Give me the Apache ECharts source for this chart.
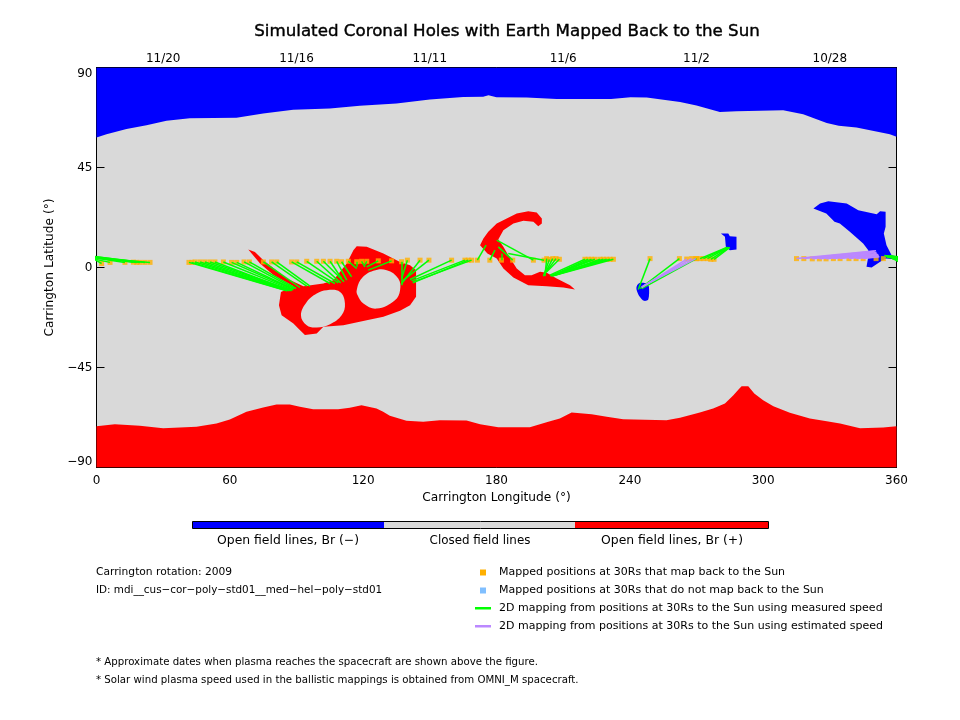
<!doctype html>
<html lang="en">
<head>
<meta charset="utf-8">
<title>Simulated Coronal Holes</title>
<script src="https://cdn.jsdelivr.net/npm/echarts@6/dist/echarts.min.js"></script>
<style>html,body{margin:0;background:#fff}#main{width:960px;height:720px}</style>
</head>
<body>
<div id="main"></div>
<script>
// all region outlines are [longitude, latitude]
var northBoundary = [[0,58.5],[4.5,60],[13.5,62.3],[22.5,64],[31.5,66],[42,67.2],[63,67.4],[75,69.3],[88.5,71],[105,71.5],[118.5,72.8],[135,73.8],[150,75.6],[165,76.7],[174,76.8],[176.4,77.5],[180,76.6],[193.6,76.5],[207,75.8],[231.6,75.8],[240.3,76.6],[247.6,76.5],[262.6,74.5],[270,72.9],[280.5,70],[288,70.3],[309,70.8],[318,69],[328.6,65],[334,63.8],[342,63],[357,60],[360,58.8]];
var southBoundary = [[0,-71.4],[8.25,-70.5],[19.5,-71.25],[30,-72.3],[45,-71.7],[54,-70.2],[60,-68.4],[67.5,-64.95],[75,-63],[81,-61.65],[87,-61.65],[91.5,-62.7],[97.5,-63.75],[108.75,-63.75],[114,-63.15],[119.25,-61.95],[126,-63.45],[129,-64.95],[132,-66.75],[139.5,-69],[147,-69.45],[154.5,-68.7],[166.5,-68.85],[172.6,-70.5],[180.8,-71.85],[195,-71.85],[203.3,-69.45],[208.5,-68],[213.8,-65.25],[222.8,-66],[229.6,-67.2],[237,-68.25],[256.5,-68.7],[262.6,-67.65],[271.5,-65.25],[277.5,-63.45],[282.8,-61.2],[286.6,-57.45],[288.9,-54.9],[290.3,-53.4],[293.3,-53.4],[296,-56.7],[300,-59.7],[304.6,-62.4],[312,-65.4],[321,-68],[328.6,-69.15],[334.6,-70.2],[343.6,-72.3],[354,-72],[360,-71.4]];
var redBlob = [[68.3,8.1],[71.3,7],[75.1,3.3],[85.6,-4.9],[93.1,-8.4],[102.1,-7.2],[106.6,-5.7],[112.6,1.8],[115.6,7.8],[117.1,9.6],[121.6,9.3],[129.1,6.3],[136.6,2.5],[141.1,1],[143.8,-1.2],[143.8,-13.2],[141.1,-17],[136.6,-19.5],[129.1,-22.2],[121.6,-23.7],[111.1,-26],[102.1,-26.7],[99.1,-29.7],[93.8,-30.4],[90.8,-27.4],[88.6,-25.2],[83.3,-21.5],[82.1,-17],[83,-11],[88.6,-8.4],[79.6,-3.4],[73.6,1.8]];
var blobHoleLeft = [[103.6,-10.2],[109.6,-11],[111.8,-16.2],[110.3,-21.5],[105.1,-25.5],[99.1,-27],[94.6,-26],[92,-21.5],[94.6,-15.5],[99.1,-11.7]];
var blobHoleRight = [[117.5,-12.5],[117.1,-10.2],[119.3,-4.95],[124.6,-1.5],[130.6,-1.2],[135.8,-4.95],[136.6,-10.2],[134.3,-14.7],[126.1,-18.5],[120.1,-16.2]];
var redCrescent = [[200.4,19.8],[200.4,22.05],[198.1,24.75],[194.3,25.35],[189.1,24.3],[184.6,22.05],[180.1,19.8],[176.3,16.05],[174.1,13.05],[172.6,10.05],[175.9,6.3],[180.1,4.05],[183.1,-0.45],[187.6,-4.5],[194.3,-7.95],[202.6,-8.4],[210.1,-9],[215.3,-9.9],[213.1,-7.95],[207.1,-4.95],[202.6,-2.4],[199.6,-1.95],[195.8,-3.45],[192.8,-3.45],[189.1,-0.45],[185.3,5.55],[183.1,9.3],[180.8,12.6],[183.1,16.8],[187.6,19.8],[192.1,21],[196.6,20.55],[198.8,18.6]];
var blueSmallSouth = [[244.6,-6.9],[243.1,-8.4],[243.1,-10.2],[244.3,-12.9],[246.4,-15],[248.3,-14.4],[248.6,-8.7],[247.6,-7.2]];
var blueSmallNorth = [[281,15.3],[284.3,15.3],[285,14.1],[288,13.8],[288,8.1],[285,7.8],[283.2,9.3],[282.8,13.8]];
var blueLarge = [[322.6,26.55],[325.6,28.8],[329.3,29.85],[337.6,28.8],[342.8,25.8],[351.1,24],[352.6,25.35],[355.1,25.05],[355.1,18.3],[354.3,15.3],[355.5,10.05],[357.8,5.55],[360,4.8],[360,3.6],[355.5,4.05],[353.7,3.3],[348.8,0],[346.5,0.3],[347.3,4.8],[347.3,7.8],[345,10.8],[339,16.05],[334.5,19.8],[332.1,20.55],[328.4,24.3]];

// [lon at 30Rs, lat at 30Rs, lon on Sun, lat on Sun], negative lon wraps round to the right edge
var measuredMappings = [
[2.3,1.8,-3,4.8],[6.1,2.3,-2,4],[12.8,2.3,-2.5,4.6],[16.6,2.4,-4,5],[18.1,2.3,-5,5.2],[19.6,2.3,-3,5.3],[21.8,2.3,-5.5,5.4],[24.1,2.3,-4.5,4.6],
[41.6,2.3,85.6,-10.5],[42.8,2.3,85.9,-10.5],[44.3,2.5,86.3,-10.2],[46.6,2.5,86.8,-10.5],[48.8,2.5,87.1,-10.2],[51.1,2.5,87.5,-10.2],[53.3,2.5,87.8,-10.5],[57.1,2.5,88.3,-10.2],[60.8,2.3,88.6,-9.9],[63.1,2.3,87.1,-9],[66.4,2.5,88.9,-9.45],[68.8,2.5,89.8,-9.45],
[75.1,2.5,91.6,-9],[78.8,2.5,94.6,-8.4],[81.1,2.5,96.1,-8.4],[87.8,2.5,105.1,-7.2],[90.1,2.5,107.3,-7.2],[94.6,2.8,108.8,-6.9],[99.1,2.8,109.9,-6.9],[102.1,2.8,111.4,-6.45],[105.1,2.8,110.3,-4.95],[108.1,2.8,112.6,-5.7],[110.3,2.6,114.8,-4.2],[113.3,2.8,117.1,-0.45],[117.1,2.6,117.1,0.3],[119.3,2.8,120.8,0.3],[121.6,2.8,120.8,1.05],[126.8,3,121.6,0.3],[132.8,3,122.3,-1.2],[137.3,2.6,137.3,-8],
[139.9,3.3,137.3,-4.95],[145.6,3.3,137.3,-7.2],[149.6,3.3,138.1,-5.7],[159.8,3.3,141.1,-5.4],[165.8,3.3,141.8,-6],[167.3,3.3,142.3,-6.9],[168.8,3.3,142.6,-6.45],[171.4,3.3,175.3,10.05],[177,3.3,179.3,7.8],[182.2,3.3,182.3,6.3],[187.3,3.3,180.8,9.3],[196.6,3.3,180.1,12.3],[201.4,3.3,185.3,6.3],
[202.6,4,201.8,-3.9],[203.8,3.6,201.1,-3.9],[205.3,4,201.4,-3.45],[206.8,4,201.8,-2.7],[208.3,3.7,202.6,-1.95],[219.8,3.7,204,-3.45],[221.3,3.7,204.3,-3.9],[222.8,3.7,204.8,-3.9],[224.3,3.7,204.8,-3.6],[226.6,3.7,205.3,-3.9],[228.1,3.7,205.3,-3.45],[229.6,3.7,205.6,-3.45],[231.1,3.7,205.9,-3.45],[232.6,3.7,206.3,-3.45],
[249.1,4,243.8,-9.9],[262.3,4,244.6,-9.45],[270,4,245.3,-9.45],[271.6,4,283.6,9],[273.1,4,283.9,9],[274.9,4,284.3,9],[276.4,3.7,284.8,9],[277.9,3.7,285,9]
];
var estimatedMappings = [
[265.6,3.8,245.3,-9],[267.8,4,245.3,-8.7],[269.7,4,246,-8.4],
[315,4,350.8,7.5],[318.3,4,350.2,7.3],[322.1,3.9,349.6,7],[325.3,3.9,351,6.8],[328.3,3.9,351.1,6.3],[331.6,4,351.5,6],[334.6,4,351.8,5.7],[338.6,4,352,5.4],[341.8,4,352,5],[345,4,352.3,4.8]
];
var extraMapped = [[350.8,4],[354.1,4]];

var xTicks = 60;
var topTicks = 30;
var dateLons = [30,90,150,210,270,330];
var dateLabels = ['11/20','11/16','11/11','11/6','11/2','10/28'];
var latTicks = 45;

var BLUE = '#0000ff', RED = '#ff0000', GRAY = '#d9d9d9', ORANGE = '#ffb000', SKY = '#80bfff', GREEN = '#00ff00', PURPLE = '#bb88ff';
var FONT = 'DejaVu Sans';

function fill(points, color, smooth) {
    return {
        type: 'custom', silent: true, clip: true, data: points, z: 2,
        renderItem: function (params, api) {
            if (params.dataIndex !== 0) return null;
            return { type: 'polygon', shape: { points: points.map(function (p) { return api.coord(p); }), smooth: smooth || 0 }, style: { fill: color } };
        }
    };
}
function capped(boundary, lat) {
    return [[0, lat]].concat(boundary, [[360, lat]]);
}
function lineData(rows) {
    var out = [];
    rows.forEach(function (r) {
        out.push({ coords: [[r[0], r[1]], [r[2], r[3]]] });
        if (r[2] < 0) out.push({ coords: [[r[0] + 360, r[1]], [r[2] + 360, r[3]]] });
    });
    return out;
}
function txt(x, y, s, align, size) {
    return { type: 'text', x: x, y: y, silent: true, style: { text: s, fill: '#000', font: (size || 11) + 'px "' + FONT + '"', textAlign: align || 'left', textVerticalAlign: 'middle' } };
}
function box(x, y, w, h, color) {
    return { type: 'rect', silent: true, shape: { x: x, y: y, width: w, height: h }, style: { fill: color } };
}

var mappedPoints = measuredMappings.concat(estimatedMappings).map(function (r) { return [r[0], r[1]]; }).concat(extraMapped);
var axisBase = { min: 0, max: 360, axisLine: { onZero: false, lineStyle: { color: '#000', width: 1 } }, splitLine: { show: false } };

var option = {
    animation: false,
    backgroundColor: '#fff',
    title: {
        text: 'Simulated Coronal Holes with Earth Mapped Back to the Sun',
        left: 502, top: 18, textAlign: 'center',
        textStyle: { fontFamily: FONT, fontSize: 16.7, fontWeight: 'normal', color: '#000', textBorderColor: '#000', textBorderWidth: 0.4 }
    },
    grid: { left: 96.5, right: 63.5, top: 67.5, bottom: 252.5, show: true, backgroundColor: GRAY, borderWidth: 0 },
    xAxis: [
        Object.assign({}, axisBase, {
            type: 'value', position: 'bottom', interval: xTicks,
            axisTick: { inside: true, length: 4, lineStyle: { color: '#000' } },
            axisLabel: { color: '#000', fontFamily: FONT, fontSize: 12, margin: 7 },
            name: 'Carrington Longitude (°)', nameLocation: 'middle', nameGap: 18,
            nameTextStyle: { color: '#000', fontFamily: FONT, fontSize: 12.2 }
        }),
        Object.assign({}, axisBase, {
            type: 'value', position: 'top', interval: topTicks,
            axisTick: { inside: true, length: 4, lineStyle: { color: '#000' } },
            axisLabel: {
                color: '#000', fontFamily: FONT, fontSize: 12, margin: 3,
                formatter: function (v) { var i = dateLons.indexOf(v); return i < 0 ? '' : dateLabels[i]; }
            }
        })
    ],
    yAxis: [
        {
            type: 'value', min: -90, max: 90, interval: latTicks, position: 'left',
            axisLine: { onZero: false, lineStyle: { color: '#000', width: 1 } }, splitLine: { show: false },
            axisTick: { inside: true, length: 8, lineStyle: { color: '#000' } },
            axisLabel: {
                color: '#000', fontFamily: FONT, fontSize: 12, margin: 4,
                verticalAlignMinLabel: 'bottom', verticalAlignMaxLabel: 'top',
                formatter: function (v) { return String(v).replace('-', '\u2212'); }
            },
            name: 'Carrington Latitude (°)', nameLocation: 'middle', nameGap: 34, nameRotate: 90,
            nameTextStyle: { color: '#000', fontFamily: FONT, fontSize: 12.2 }
        },
        {
            type: 'value', min: -90, max: 90, interval: latTicks, position: 'right',
            axisLine: { onZero: false, lineStyle: { color: '#000', width: 1 } }, splitLine: { show: false },
            axisTick: { inside: true, length: 8, lineStyle: { color: '#000' } },
            axisLabel: { show: false }
        }
    ],
    series: [
        fill(capped(northBoundary, 90), BLUE),
        fill(capped(southBoundary, -90), RED),
        fill(redBlob, RED),
        fill(blobHoleLeft, GRAY, 0.4),
        fill(blobHoleRight, GRAY, 0.4),
        fill(redCrescent, RED),
        fill(blueSmallSouth, BLUE, 0.3),
        fill(blueSmallNorth, BLUE),
        fill(blueLarge, BLUE),
        { type: 'scatter', name: 'Mapped', data: mappedPoints, symbol: 'rect', symbolSize: 5, clip: true, z: 3, silent: true, itemStyle: { color: ORANGE } },
        { type: 'lines', coordinateSystem: 'cartesian2d', polyline: false, clip: true, z: 4, silent: true, data: lineData(measuredMappings), lineStyle: { color: GREEN, width: 1.5, opacity: 1 } },
        { type: 'lines', coordinateSystem: 'cartesian2d', polyline: false, clip: true, z: 5, silent: true, data: lineData(estimatedMappings), lineStyle: { color: PURPLE, width: 1.5, opacity: 1 } }
    ],
    graphic: [
        box(192.5, 521.5, 191.5, 7, BLUE),
        box(384, 521.5, 191, 7, GRAY),
        box(575, 521.5, 193, 7, RED),
        { type: 'rect', silent: true, shape: { x: 192.5, y: 521.5, width: 576, height: 7 }, style: { fill: 'none', stroke: '#000', lineWidth: 1 } },
        txt(288, 541, 'Open field lines, Br (\u2212)', 'center', 12.4),
        txt(480, 541, 'Closed field lines', 'center', 11.9),
        txt(672, 541, 'Open field lines, Br (+)', 'center', 12.4),
        txt(96, 572, 'Carrington rotation: 2009', 'left', 10.7),
        txt(96, 590.5, 'ID: mdi__cus\u2212cor\u2212poly\u2212std01__med\u2212hel\u2212poly\u2212std01', 'left', 10.4),
        box(480, 569.5, 6, 6, ORANGE),
        box(480, 587.5, 6, 6, SKY),
        box(475, 607, 16, 2.5, GREEN),
        box(475, 625, 16, 2.5, PURPLE),
        txt(499, 572, 'Mapped positions at 30Rs that map back to the Sun'),
        txt(499, 590.5, 'Mapped positions at 30Rs that do not map back to the Sun'),
        txt(499, 608.5, '2D mapping from positions at 30Rs to the Sun using measured speed'),
        txt(499, 626.5, '2D mapping from positions at 30Rs to the Sun using estimated speed'),
        txt(96, 662.5, '* Approximate dates when plasma reaches the spacecraft are shown above the figure.', 'left', 10.2),
        txt(96, 680, '* Solar wind plasma speed used in the ballistic mappings is obtained from OMNI_M spacecraft.', 'left', 10.2)
    ]
};

var myChart = echarts.init(document.getElementById('main'));
myChart.setOption(option);
</script>
</body>
</html>
